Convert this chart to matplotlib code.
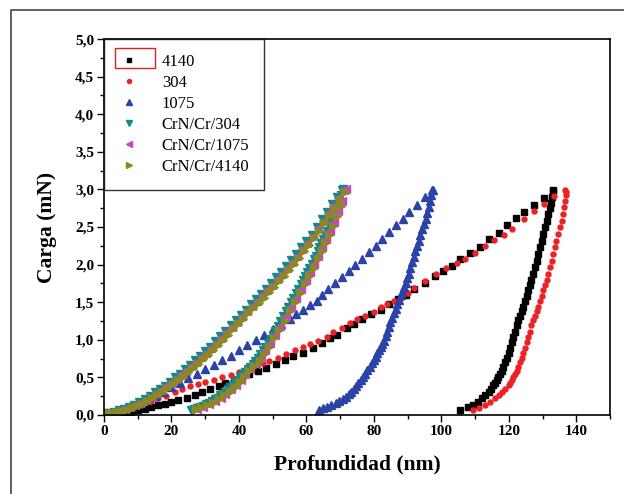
import matplotlib
matplotlib.use("Agg")
import matplotlib.pyplot as plt
from matplotlib.lines import Line2D
from matplotlib.patches import Rectangle
from matplotlib.ticker import MultipleLocator, FuncFormatter

plt.rcParams['font.family'] = ['Liberation Serif', 'DejaVu Serif']

# curvas carga-descarga de nanoindentación (profundidad en nm, carga en mN)
x_4140 = [4, 6, 8, 10, 12, 14, 16, 18, 20, 22, 24.5, 27, 29, 31.5, 34, 36, 38.5, 41, 43, 45.5,
          48, 51, 53.5, 56, 59, 62, 64.5, 67, 69, 72, 74, 76.5, 79, 82, 84.5, 87, 89.5, 92, 95, 98,
          100.5, 103, 105.5, 108.5, 111.5, 114, 117, 119.5, 122, 124.5, 127.5, 130.5, 133,
          133.2, 132.9, 132.6, 132.3, 131.7, 131.2, 130.7, 130.2, 129.7, 129.2, 128.7, 128.2, 127.7,
          127.2, 126.7, 126.3, 125.8, 125.3, 124.8, 124.3, 123.8, 123.3, 122.8, 122.3, 121.8, 121.3,
          120.8, 120.4, 119.9, 119.4, 118.9, 118.4, 117.9, 117.4, 116.9, 116.4, 115.9, 115.4, 114.7,
          114.0, 113.0, 112.0, 110.8, 109.5, 108.0, 105.6]
y_4140 = [0.02, 0.03, 0.04, 0.06, 0.08, 0.10, 0.13, 0.15, 0.17, 0.20, 0.23, 0.27, 0.31, 0.35, 0.38,
          0.43, 0.47, 0.51, 0.55, 0.58, 0.62, 0.68, 0.73, 0.78, 0.83, 0.89, 0.96, 1.02, 1.07, 1.16,
          1.21, 1.28, 1.34, 1.40, 1.47, 1.54, 1.60, 1.67, 1.76, 1.85, 1.92, 1.98, 2.07, 2.16, 2.24,
          2.34, 2.42, 2.52, 2.62, 2.70, 2.79, 2.88, 2.99,
          2.98, 2.90, 2.82, 2.75, 2.67, 2.58, 2.50, 2.41, 2.32, 2.23, 2.14, 2.05, 1.97, 1.88, 1.80,
          1.73, 1.66, 1.58, 1.51, 1.44, 1.38, 1.32, 1.26, 1.19, 1.11, 1.04, 0.97, 0.89, 0.82, 0.76,
          0.70, 0.64, 0.59, 0.55, 0.51, 0.47, 0.43, 0.40, 0.35, 0.31, 0.26, 0.22, 0.17, 0.13, 0.11,
          0.07]

x_304 = [0, 2, 4.4, 6.5, 9, 11.5, 14, 16, 18.5, 21, 23, 25.5, 28, 30, 32.5, 35, 37.5, 40, 42,
         44.5, 47, 49, 51.5, 54, 56.5, 59, 61, 63.5, 66, 68, 70.5, 73, 75, 77.5, 80, 82, 84, 86, 88,
         90, 92, 95, 98.5, 101.5, 104.5, 107, 110, 113, 115.5, 118.5, 121, 124.5, 127.5, 130.5,
         133.5, 136.5,
         136.8, 137.0, 136.6, 136.3, 136.1, 135.6, 135.1, 134.6, 134.1, 133.7, 133.2, 132.7, 132.2,
         131.7, 131.2, 130.7, 130.2, 129.7, 129.2, 128.7, 128.2, 127.7, 127.2, 126.7, 126.3, 125.8,
         125.3, 124.8, 124.3, 123.8, 123.3, 122.8, 122.3, 121.8, 121.3, 120.8, 120.4, 119.9, 119.0,
         117.9, 117.0, 115.9, 114.5, 113.0, 111.0, 109.5]
y_304 = [0.02, 0.03, 0.05, 0.08, 0.11, 0.15, 0.19, 0.22, 0.25, 0.30, 0.34, 0.38, 0.41, 0.44, 0.47,
         0.50, 0.53, 0.57, 0.61, 0.65, 0.69, 0.72, 0.76, 0.81, 0.86, 0.90, 0.94, 0.99, 1.04, 1.10,
         1.16, 1.22, 1.27, 1.32, 1.37, 1.43, 1.48, 1.51, 1.55, 1.62, 1.69, 1.78, 1.87, 1.95, 2.02,
         2.08, 2.15, 2.25, 2.33, 2.40, 2.47, 2.60, 2.71, 2.80, 2.91, 2.99,
         2.97, 2.93, 2.85, 2.76, 2.67, 2.58, 2.50, 2.41, 2.32, 2.23, 2.14, 2.05, 1.97, 1.88, 1.80,
         1.73, 1.66, 1.58, 1.51, 1.44, 1.38, 1.32, 1.26, 1.19, 1.11, 1.04, 0.97, 0.89, 0.82, 0.76,
         0.70, 0.64, 0.59, 0.55, 0.51, 0.47, 0.43, 0.40, 0.35, 0.31, 0.26, 0.22, 0.17, 0.13, 0.09,
         0.07]

x_1075 = [0, 2.5, 5, 7.5, 10, 12.5, 15, 17.5, 20, 22.5, 25, 27.5, 30, 32.5, 35, 37.5, 40, 42.5,
          45, 47.5, 50, 52.5, 55, 57, 59, 61, 63, 64.5, 66.5, 68.5, 70.5, 72.5, 74.5, 76.5, 78.5,
          80.5, 82.5, 84.5, 86.5, 88.5, 90.5, 92.8, 95.2, 97.2,
          97.4, 97.0, 96.6, 96.2, 95.7, 95.3, 94.8, 94.3, 93.8, 93.3, 92.8, 92.3, 91.8, 91.3, 90.8,
          90.3, 89.8, 89.4, 88.9, 88.4, 87.9, 87.4, 86.9, 86.4, 85.9, 85.4, 84.9, 84.4, 83.9, 83.5,
          83.0, 82.5, 82.0, 81.5, 81.0, 80.5, 80.0, 79.3, 78.7, 78.0, 77.4, 76.7, 76.1, 75.4, 74.8,
          74.1, 73.3, 72.5, 71.7, 70.7, 69.7, 68.7, 67.4, 66.2, 65.0, 63.8]
y_1075 = [0.02, 0.04, 0.07, 0.11, 0.15, 0.20, 0.25, 0.31, 0.37, 0.43, 0.49, 0.55, 0.61, 0.67, 0.73,
          0.79, 0.86, 0.93, 1.00, 1.07, 1.14, 1.21, 1.27, 1.34, 1.40, 1.46, 1.52, 1.59, 1.67, 1.75,
          1.83, 1.91, 1.99, 2.08, 2.17, 2.25, 2.34, 2.43, 2.52, 2.61, 2.70, 2.79, 2.90, 2.99,
          2.99, 2.92, 2.84, 2.76, 2.69, 2.61, 2.54, 2.47, 2.40, 2.32, 2.25, 2.18, 2.10, 2.03, 1.95,
          1.88, 1.82, 1.76, 1.70, 1.64, 1.59, 1.53, 1.47, 1.41, 1.35, 1.29, 1.23, 1.17, 1.11, 1.05,
          0.99, 0.95, 0.90, 0.86, 0.82, 0.77, 0.73, 0.69, 0.64, 0.60, 0.55, 0.51, 0.46, 0.42, 0.39,
          0.35, 0.31, 0.28, 0.24, 0.21, 0.18, 0.16, 0.13, 0.11, 0.09, 0.07]

x_crn_304 = [0, 1.5, 3, 4.5, 6, 7.5, 9, 10.5, 12, 13.5, 15, 16.5, 18, 19.5, 21, 22.5, 24, 25.5,
             27, 28.5, 30, 31.5, 33, 34.5, 36, 37.5, 39, 40.5, 42, 43.5, 45, 46.5, 48, 49.5, 51,
             52.5, 54, 55.5, 57, 58.5, 60, 61.5, 63, 64.5, 66, 67.5, 69, 70.4,
             70.9, 70.3, 69.7, 69.1, 68.5, 67.9, 67.4, 66.8, 66.2, 65.6, 65.0, 64.4, 63.8, 63.3,
             62.7, 62.1, 61.5, 60.9, 60.3, 59.7, 59.0, 58.3, 57.5, 56.8, 56.0, 55.3, 54.5, 53.8,
             53.0, 52.3, 51.5, 50.8, 50.0, 49.3, 48.5, 47.8, 47.0, 46.3, 45.6, 44.8, 44.1, 43.3,
             42.6, 41.9, 41.1, 40.4, 39.7, 38.9, 38.2, 37.4, 36.7, 36.0, 35.2, 34.5, 33.8, 32.9,
             32.0, 31.2, 30.3, 29.4, 28.5, 27.6, 26.7, 25.9]
y_crn_304 = [0.03, 0.03, 0.04, 0.06, 0.08, 0.10, 0.13, 0.17, 0.21, 0.25, 0.30, 0.34, 0.39, 0.44,
             0.50, 0.55, 0.61, 0.67, 0.73, 0.79, 0.85, 0.91, 0.98, 1.05, 1.12, 1.19, 1.26, 1.33,
             1.40, 1.47, 1.54, 1.61, 1.68, 1.75, 1.83, 1.90, 1.98, 2.06, 2.14, 2.23, 2.31, 2.40,
             2.50, 2.60, 2.70, 2.80, 2.90, 2.99,
             3.00, 2.92, 2.84, 2.77, 2.71, 2.64, 2.57, 2.51, 2.45, 2.40, 2.34, 2.29, 2.23, 2.18,
             2.12, 2.07, 2.01, 1.96, 1.90, 1.85, 1.79, 1.74, 1.68, 1.62, 1.56, 1.50, 1.44, 1.38,
             1.31, 1.25, 1.18, 1.12, 1.07, 1.01, 0.96, 0.91, 0.86, 0.81, 0.76, 0.72, 0.68, 0.64,
             0.61, 0.57, 0.54, 0.50, 0.47, 0.44, 0.40, 0.37, 0.34, 0.31, 0.28, 0.26, 0.23, 0.21,
             0.18, 0.16, 0.14, 0.12, 0.11, 0.09, 0.08, 0.07]

x_crn_1075 = [0.3, 1.8, 3.3, 4.8, 6.3, 7.8, 9.3, 10.8, 12.3, 13.8, 15.3, 16.8, 18.3, 19.8, 21.3,
              22.8, 24.3, 25.8, 27.3, 28.8, 30.3, 31.8, 33.3, 34.8, 36.3, 37.8, 39.3, 40.8, 42.3,
              43.8, 45.3, 46.8, 48.3, 49.8, 51.3, 52.8, 54.3, 55.8, 57.3, 58.8, 60.3, 61.8, 63.3,
              64.8, 66.3, 67.8, 69.3, 71.0,
              71.7, 70.5, 69.3, 68.2, 67.0, 65.8, 64.6, 63.5, 62.3, 61.1, 59.8, 58.3, 56.8, 55.3,
              53.8, 52.3, 50.8, 49.3, 47.8, 46.4, 44.9, 43.4, 41.9, 40.5, 39.0, 37.5, 36.0, 34.6,
              32.8, 31.1, 29.3, 27.5]
y_crn_1075 = [0.03, 0.03, 0.04, 0.06, 0.08, 0.10, 0.13, 0.16, 0.20, 0.24, 0.29, 0.33, 0.38, 0.43,
              0.48, 0.54, 0.59, 0.65, 0.71, 0.77, 0.83, 0.89, 0.96, 1.03, 1.10, 1.17, 1.24, 1.31,
              1.38, 1.45, 1.52, 1.59, 1.66, 1.73, 1.81, 1.88, 1.96, 2.04, 2.12, 2.21, 2.29, 2.38,
              2.48, 2.58, 2.68, 2.78, 2.88, 2.99,
              3.00, 2.84, 2.71, 2.57, 2.45, 2.34, 2.23, 2.12, 2.01, 1.90, 1.79, 1.68, 1.56, 1.44,
              1.31, 1.18, 1.07, 0.96, 0.86, 0.76, 0.68, 0.61, 0.54, 0.47, 0.40, 0.34, 0.28, 0.23,
              0.18, 0.14, 0.11, 0.08]

x_crn_4140 = [0.8, 2.3, 3.8, 5.3, 6.8, 8.3, 9.8, 11.3, 12.8, 14.3, 15.8, 17.3, 18.8, 20.3, 21.8,
              23.3, 24.8, 26.3, 27.8, 29.3, 30.8, 32.3, 33.8, 35.3, 36.8, 38.3, 39.8, 41.3, 42.8,
              44.3, 45.8, 47.3, 48.8, 50.3, 51.8, 53.3, 54.8, 56.3, 57.8, 59.3, 60.8, 62.3, 63.8,
              65.3, 66.8, 68.3, 69.8, 71.3,
              71.5, 70.3, 69.1, 68.0, 66.8, 65.6, 64.5, 63.3, 62.1, 60.9, 59.5, 58.0, 56.5, 55.0,
              53.5, 52.0, 50.5, 49.0, 47.5, 46.1, 44.6, 43.1, 41.6, 40.2, 38.7, 37.2, 35.7, 34.2,
              32.4, 30.6, 28.8, 27.2]
y_crn_4140 = [0.02, 0.03, 0.04, 0.05, 0.07, 0.09, 0.12, 0.15, 0.19, 0.23, 0.27, 0.31, 0.36, 0.41,
              0.46, 0.51, 0.57, 0.62, 0.68, 0.74, 0.80, 0.86, 0.93, 1.00, 1.07, 1.14, 1.21, 1.28,
              1.35, 1.42, 1.49, 1.56, 1.63, 1.70, 1.78, 1.85, 1.93, 2.01, 2.09, 2.18, 2.26, 2.35,
              2.45, 2.55, 2.65, 2.75, 2.86, 2.97,
              2.96, 2.78, 2.64, 2.51, 2.40, 2.29, 2.18, 2.07, 1.96, 1.85, 1.74, 1.62, 1.50, 1.38,
              1.25, 1.13, 1.02, 0.91, 0.81, 0.72, 0.65, 0.58, 0.51, 0.44, 0.37, 0.31, 0.26, 0.21,
              0.16, 0.13, 0.10, 0.08]

fig = plt.figure(figsize=(6.24, 4.94), dpi=100)
ax = fig.add_axes([0.1667, 0.160, 0.811, 0.761])

ax.plot(x_4140, y_4140, ls='none', marker='s', ms=4.0, color='black', label='4140')
ax.plot(x_304, y_304, ls='none', marker='o', ms=3.6, color='#ec2126', label='304')
ax.plot(x_1075, y_1075, ls='none', marker='^', ms=5.2, color='#2b43a6', label='1075')
ax.plot(x_crn_304, y_crn_304, ls='none', marker='v', ms=5.2, color='#12898a', label='CrN/Cr/304')
ax.plot(x_crn_1075, y_crn_1075, ls='none', marker='<', ms=5.2, color='#c647c2', label='CrN/Cr/1075')
ax.plot(x_crn_4140, y_crn_4140, ls='none', marker='>', ms=5.2, color='#8a8a1f', label='CrN/Cr/4140')

ax.set_xlim(0, 150)
ax.set_ylim(0, 5.0)
ax.xaxis.set_major_locator(MultipleLocator(20))
ax.xaxis.set_minor_locator(MultipleLocator(10))
ax.yaxis.set_major_locator(MultipleLocator(0.5))
ax.yaxis.set_minor_locator(MultipleLocator(0.25))
ax.yaxis.set_major_formatter(FuncFormatter(lambda v, p: f"{v:.1f}".replace('.', ',')))
ax.tick_params(which='both', direction='out', top=False, right=False, width=1.0)
ax.tick_params(which='major', length=5, labelsize=11, pad=2)
ax.tick_params(which='minor', length=3)
for lab in ax.get_xticklabels() + ax.get_yticklabels():
    lab.set_fontweight('bold')
for sp in ax.spines.values():
    sp.set_linewidth(1.2)

ax.set_xlabel('Profundidad (nm)', fontsize=15.5, fontweight='bold', labelpad=12)
ax.set_ylabel('Carga (mN)', fontsize=15.5, fontweight='bold', labelpad=13)

leg = ax.legend(loc='upper left', borderaxespad=0, fontsize=12, frameon=True, fancybox=False,
                edgecolor='black', labelspacing=0.3, handlelength=1.17, handletextpad=1.4,
                borderpad=0.9, markerscale=0.8)
leg.get_frame().set_linewidth(1.0)

# marco rojo sobre el primer símbolo de la leyenda
fig.add_artist(Rectangle((115 / 624, 1 - 68 / 494), 40 / 624, 20 / 494,
                         transform=fig.transFigure, fill=False, ec='#e02020', lw=1.0))

# recuadro exterior
fig.add_artist(Line2D([11 / 624, 11 / 624, 1.0], [0.0, 1 - 10 / 494, 1 - 10 / 494],
                      transform=fig.transFigure, color='#444444', lw=1.2))

fig.savefig('out.png', dpi=100)
